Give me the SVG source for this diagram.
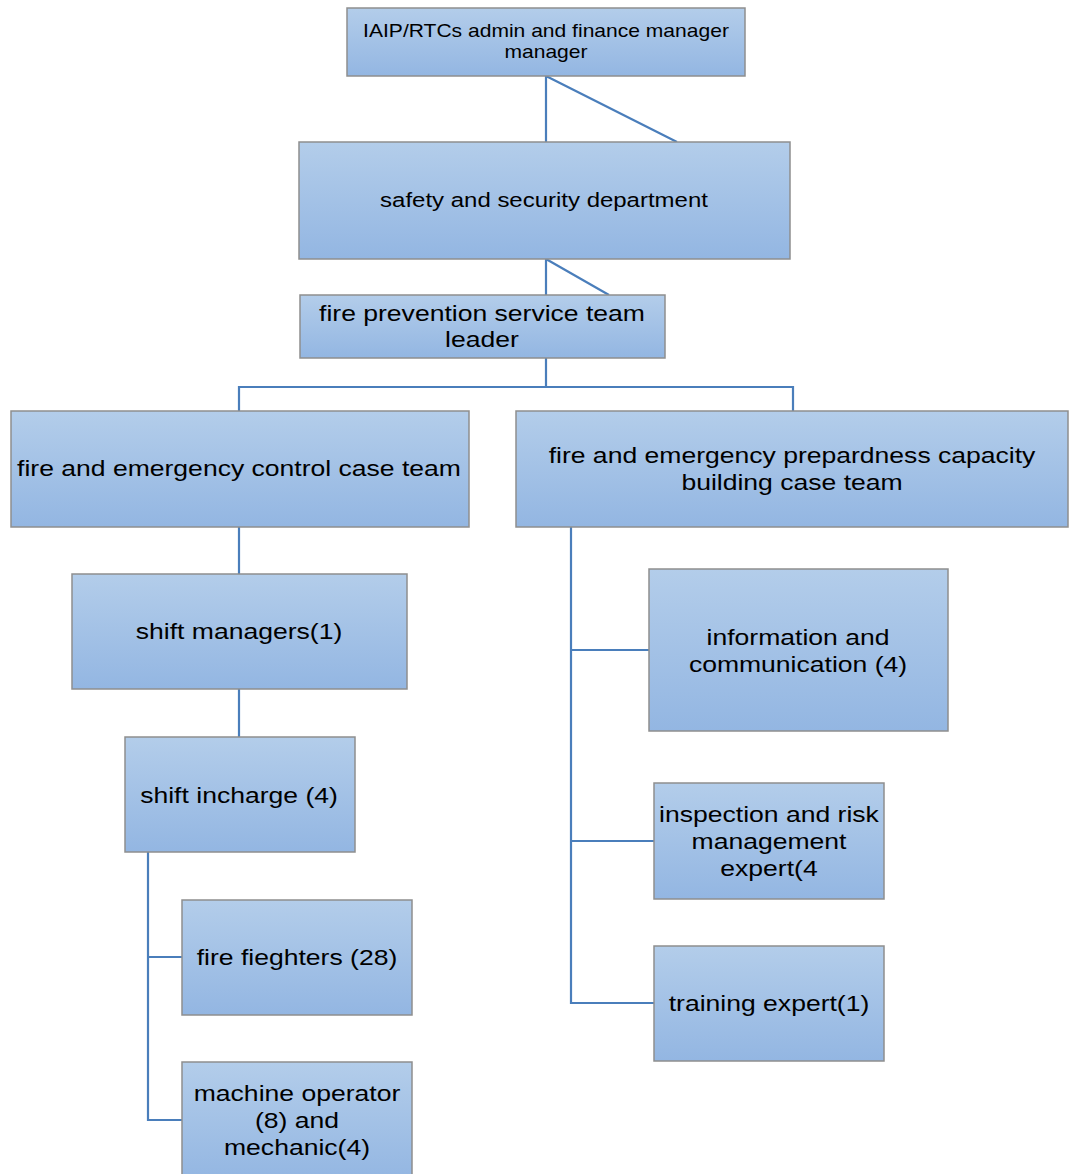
<svg xmlns="http://www.w3.org/2000/svg" width="1069" height="1174" viewBox="0 0 1069 1174">
<defs>
<linearGradient id="g" x1="0" y1="0" x2="0" y2="1">
<stop offset="0" stop-color="#b3cdea"/>
<stop offset="1" stop-color="#93b6e2"/>
</linearGradient>
<style>
.box{fill:url(#g);stroke:#8e8e8e;stroke-width:1.5}
.c{fill:none;stroke:#4a7ebb;stroke-width:2.2}
text{font-family:"Liberation Sans",Arial,sans-serif;fill:#000;text-anchor:middle}
.t{font-size:22.5px}
.s{font-size:20.5px}
.k{font-size:18px}
</style>
</defs>
<rect width="1069" height="1174" fill="#fff"/>
<g id="connectors">
<path class="c" d="M546 76V142M546 76L677 142"/>
<path class="c" d="M546 259V295M546 259L609 295"/>
<path class="c" d="M546 358V387M239 411V387H793V411"/>
<path class="c" d="M239 527V574M239 689V737"/>
<path class="c" d="M148 852V1120H182M148 957H182"/>
<path class="c" d="M571 527V1003H654M571 650H649M571 841H654"/>
</g>
<g id="n1"><rect class="box" x="347" y="8" width="398" height="68"/>
<text class="k" transform="translate(546,37) scale(1.17 1)"><tspan x="0" y="0">IAIP/RTCs admin and finance manager</tspan><tspan x="0" y="21">manager</tspan></text></g>
<g id="n2"><rect class="box" x="299" y="142" width="491" height="117"/>
<text class="s" transform="translate(544,207) scale(1.17 1)">safety and security department</text></g>
<g id="n3"><rect class="box" x="300" y="295" width="365" height="63"/>
<text class="t" transform="translate(482,321) scale(1.18 1)"><tspan x="0" y="0">fire prevention service team</tspan><tspan x="0" y="26">leader</tspan></text></g>
<g id="n4"><rect class="box" x="11" y="411" width="458" height="116"/>
<text class="t" transform="translate(239,476) scale(1.18 1)">fire and emergency control case team</text></g>
<g id="n5"><rect class="box" x="516" y="411" width="552" height="116"/>
<text class="t" transform="translate(792,463) scale(1.18 1)"><tspan x="0" y="0">fire and emergency prepardness capacity</tspan><tspan x="0" y="27">building case team</tspan></text></g>
<g id="n6"><rect class="box" x="72" y="574" width="335" height="115"/>
<text class="t" transform="translate(239,639) scale(1.18 1)">shift managers(1)</text></g>
<g id="n7"><rect class="box" x="125" y="737" width="230" height="115"/>
<text class="t" transform="translate(239,803) scale(1.18 1)">shift incharge (4)</text></g>
<g id="n8"><rect class="box" x="182" y="900" width="230" height="115"/>
<text class="t" transform="translate(297,965) scale(1.18 1)">fire fieghters (28)</text></g>
<g id="n9"><rect class="box" x="182" y="1062" width="230" height="120"/>
<text class="t" transform="translate(297,1101) scale(1.18 1)"><tspan x="0" y="0">machine operator</tspan><tspan x="0" y="27">(8) and</tspan><tspan x="0" y="54">mechanic(4)</tspan></text></g>
<g id="n10"><rect class="box" x="649" y="569" width="299" height="162"/>
<text class="t" transform="translate(798,645) scale(1.18 1)"><tspan x="0" y="0">information and</tspan><tspan x="0" y="27">communication (4)</tspan></text></g>
<g id="n11"><rect class="box" x="654" y="783" width="230" height="116"/>
<text class="t" transform="translate(769,822) scale(1.18 1)"><tspan x="0" y="0">inspection and risk</tspan><tspan x="0" y="27">management</tspan><tspan x="0" y="54">expert(4</tspan></text></g>
<g id="n12"><rect class="box" x="654" y="946" width="230" height="115"/>
<text class="t" transform="translate(769,1011) scale(1.18 1)">training expert(1)</text></g>
</svg>
